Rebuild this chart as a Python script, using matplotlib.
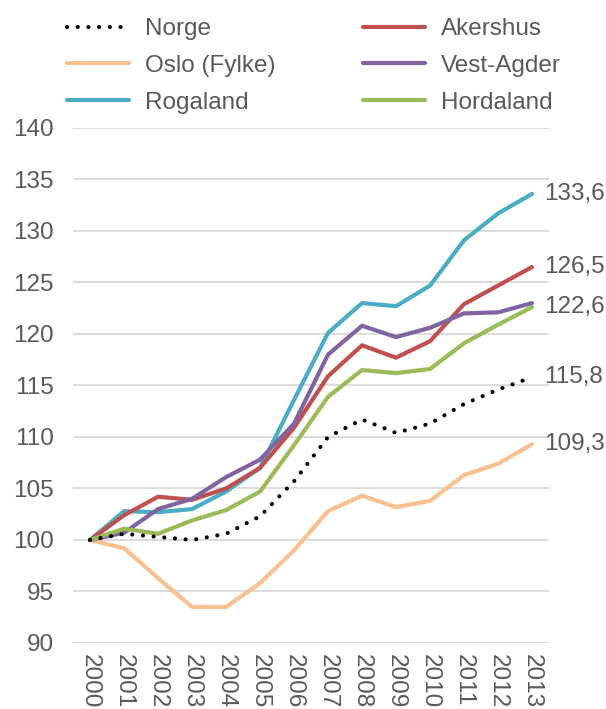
import matplotlib
matplotlib.use('Agg')
import matplotlib.pyplot as plt

plt.rcParams['font.family'] = ['Liberation Sans', 'DejaVu Sans']

years = list(range(2000, 2014))

norge = [100, 100.6, 100.3, 100.0, 100.6, 102.3, 105.7, 110.0, 111.7, 110.4, 111.3, 113.2, 114.6, 115.8]
akershus = [100, 102.4, 104.2, 103.9, 105.0, 107.0, 110.9, 115.9, 118.9, 117.7, 119.3, 122.9, 124.7, 126.5]
oslo = [100, 99.2, 96.3, 93.5, 93.5, 95.8, 99.0, 102.8, 104.3, 103.2, 103.8, 106.3, 107.4, 109.3]
vest_agder = [100, 100.7, 103.0, 104.0, 106.1, 107.8, 111.3, 118.0, 120.8, 119.7, 120.6, 122.0, 122.1, 123.0]
rogaland = [100, 102.8, 102.7, 103.0, 104.7, 107.0, 113.6, 120.1, 123.0, 122.7, 124.7, 129.1, 131.7, 133.6]
hordaland = [100, 101.1, 100.6, 101.9, 102.9, 104.7, 109.2, 113.9, 116.5, 116.2, 116.6, 119.1, 120.9, 122.6]

end_labels = ['133,6', '126,5', '122,6', '115,8', '109,3']
end_values = [rogaland[-1], akershus[-1], hordaland[-1], norge[-1], oslo[-1]]

grey = '#595959'
fs = 17.5

fig = plt.figure(figsize=(6.06, 7.09), dpi=100)
ax = fig.add_axes([0.1205, 0.0931, 0.7855, 0.7264])

x = list(range(len(years)))
lw = 3.0
h_norge, = ax.plot(x, norge, color='black', lw=lw, linestyle=(0, (0.01, 2.56)),
                   dash_capstyle='round', label='Norge', zorder=4)
h_oslo, = ax.plot(x, oslo, color='#FAC090', lw=lw, label='Oslo (Fylke)', solid_capstyle='round')
h_rog, = ax.plot(x, rogaland, color='#4BACC6', lw=lw, label='Rogaland', solid_capstyle='round')
h_ak, = ax.plot(x, akershus, color='#C0504D', lw=lw, label='Akershus', solid_capstyle='round')
h_va, = ax.plot(x, vest_agder, color='#8064A2', lw=lw, label='Vest-Agder', solid_capstyle='round')
h_ho, = ax.plot(x, hordaland, color='#9BBB59', lw=lw, label='Hordaland', solid_capstyle='round')

# value labels at the end of the lines
for lab, val in zip(end_labels, end_values):
    ax.annotate(lab, xy=(x[-1], val), xytext=(9, 0), textcoords='offset points',
                va='center', ha='left', fontsize=fs, color=grey, annotation_clip=False)

ax.set_xlim(-0.5, len(years) - 0.5)
ax.set_ylim(90, 140)
ax.set_yticks(range(90, 141, 5))
ax.set_xticks(x)
ax.set_xticklabels([str(y) for y in years], rotation=270, fontsize=fs, color=grey, va='top')
ax.tick_params(axis='y', labelsize=fs, labelcolor=grey, length=0, pad=14)
ax.tick_params(axis='x', length=0, pad=8)
ax.grid(axis='y', color='#d9d9d9', lw=1.3)
ax.set_axisbelow(True)
for s in ax.spines.values():
    s.set_visible(False)

leg = fig.legend(handles=[h_norge, h_oslo, h_rog, h_ak, h_va, h_ho], ncol=2,
                 loc='upper left', bbox_to_anchor=(0.074, 1.005), frameon=False,
                 fontsize=fs, handlelength=2.55, handletextpad=0.66,
                 columnspacing=3.6, labelspacing=0.6)
for t in leg.get_texts():
    t.set_color(grey)

fig.savefig('out.png', dpi=100)
